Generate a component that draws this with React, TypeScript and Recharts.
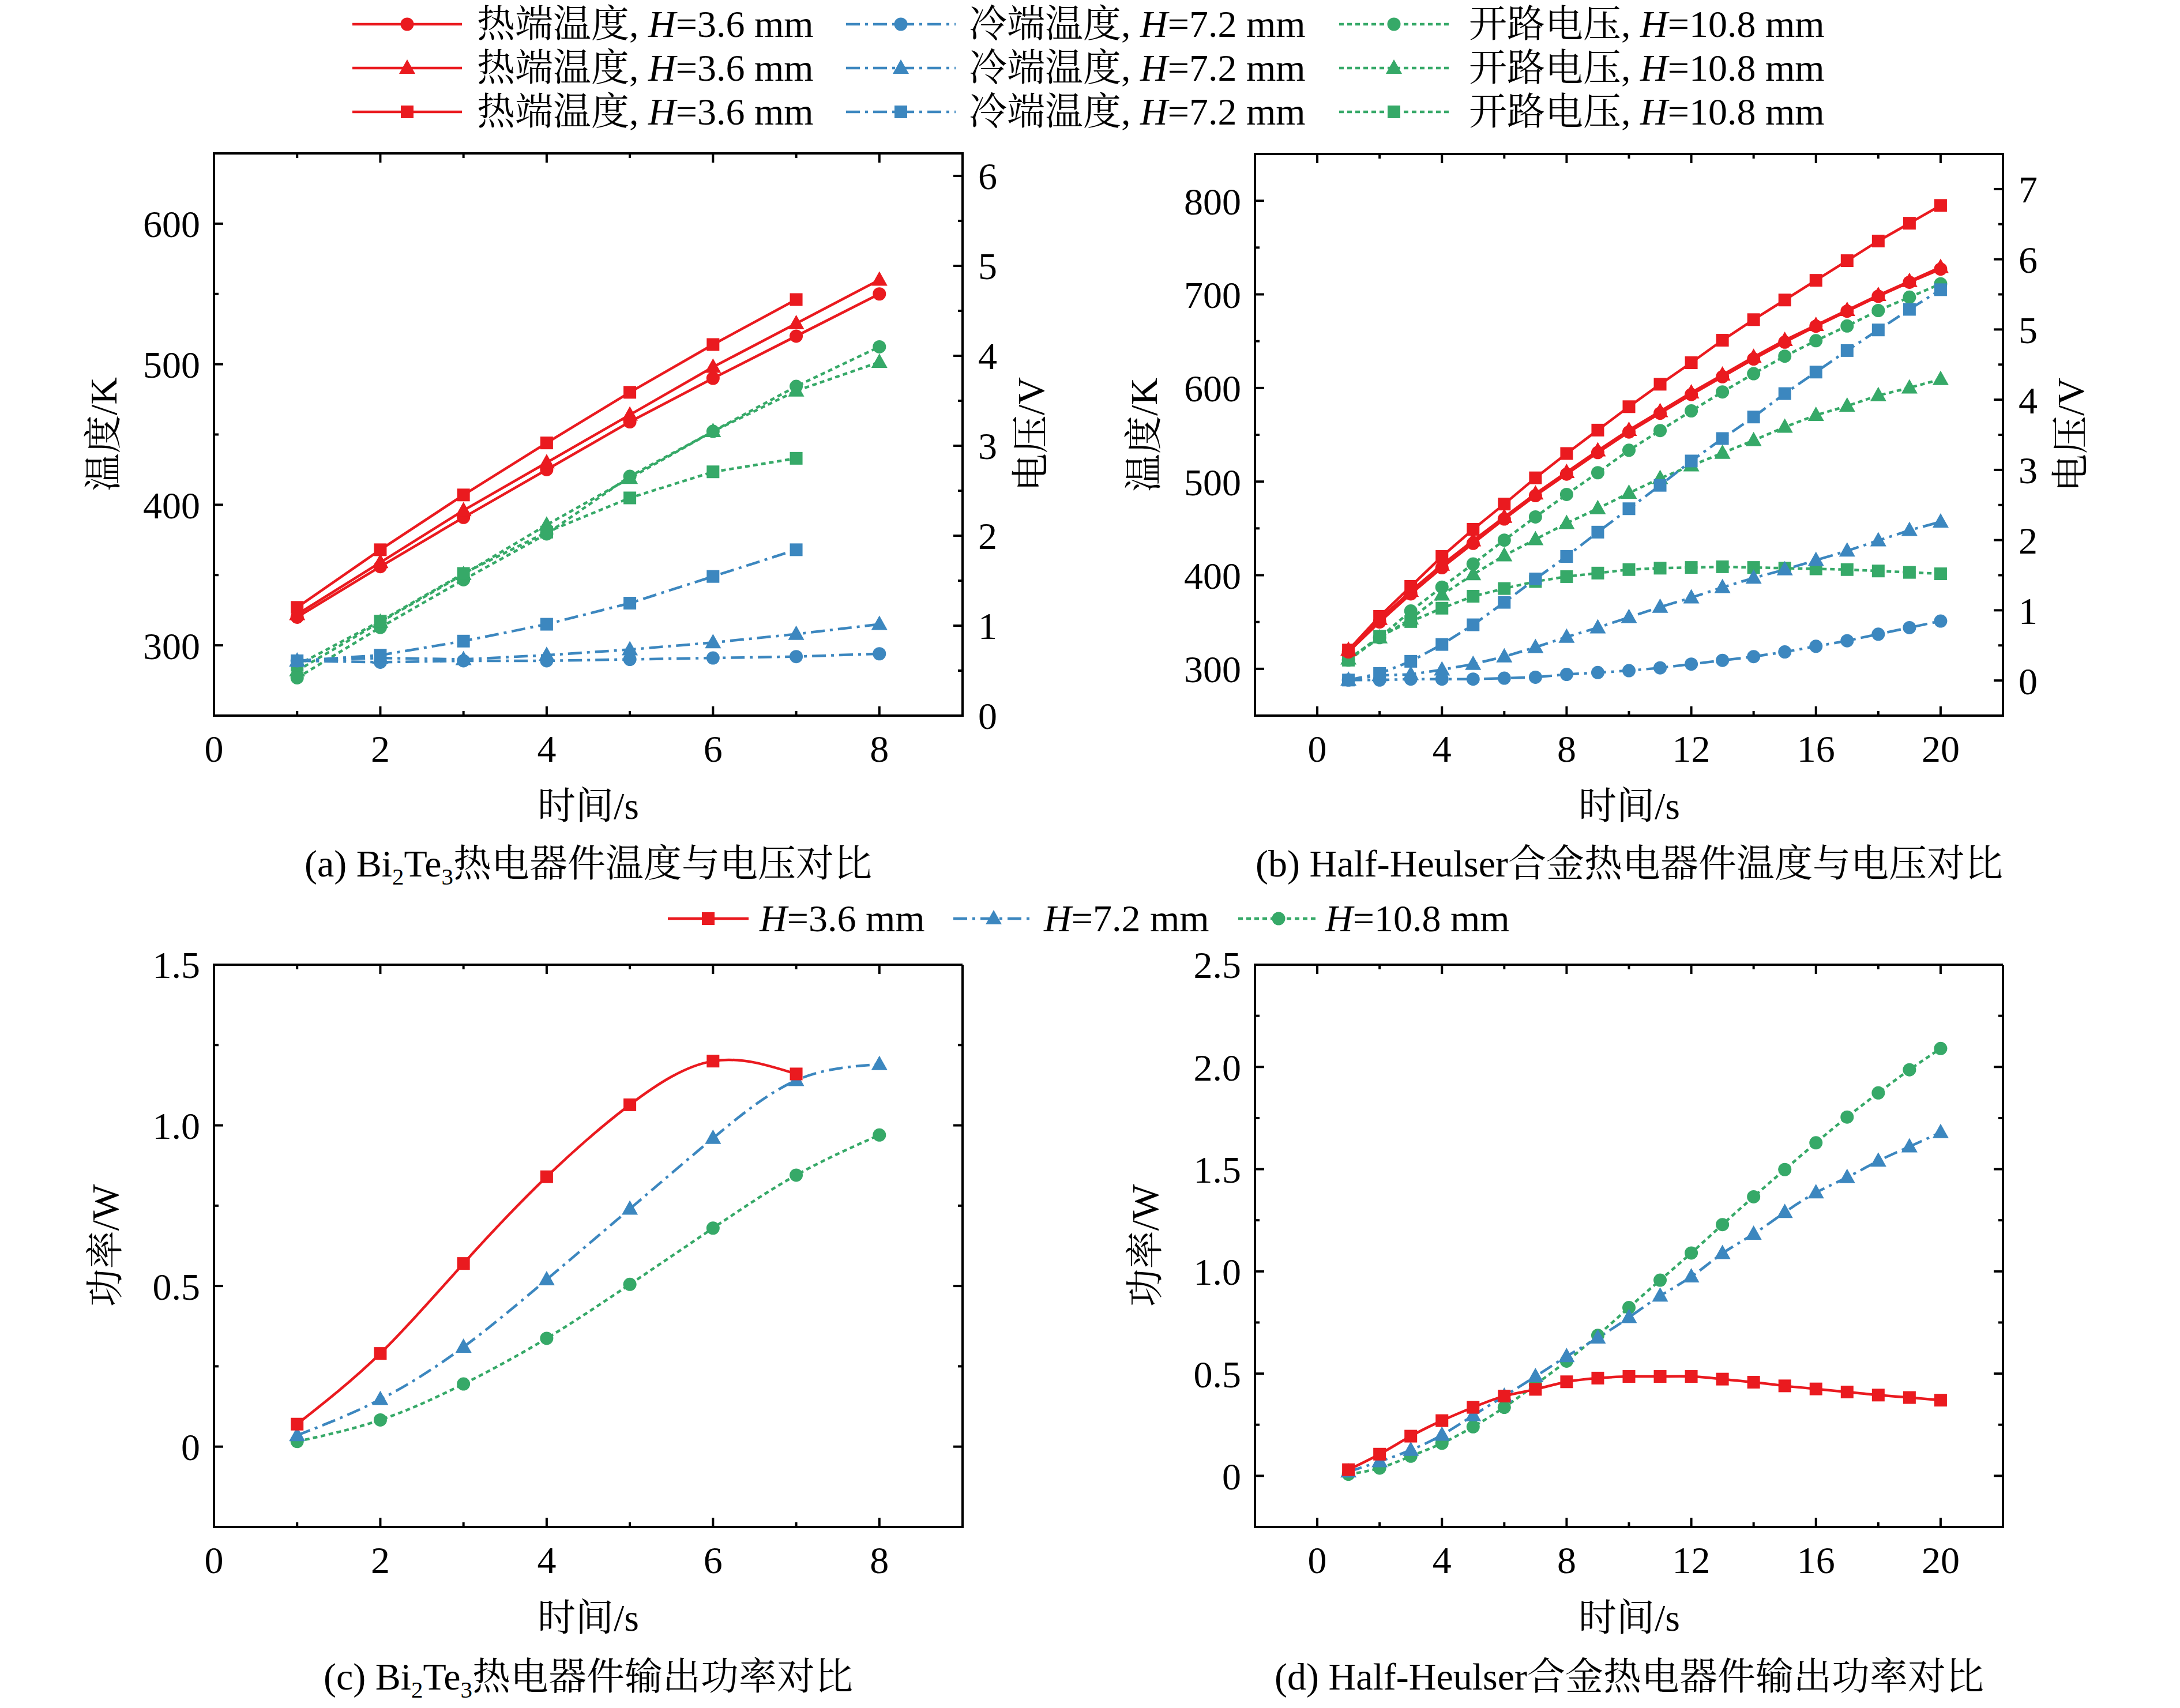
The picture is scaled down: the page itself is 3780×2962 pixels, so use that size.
import { LineChart, Line, XAxis, YAxis, ReferenceLine } from 'recharts';

const RED = '#ea1a1f';
const BLUE = '#3c87bf';
const GREEN = '#36a968';
const FONT = "'Liberation Serif', 'Times New Roman', 'Noto Serif CJK SC', 'Noto Sans CJK SC', serif";
const DASH_DOT = '24 9 5 9';
const SHORT_DASH = '8 6';
const LINE_W = 4.5;

// (a) Bi2Te3 device: temperature (K) and open-circuit voltage (V)
const TIME_A = [1, 2, 3, 4, 5, 6, 7, 8];
const A_HOT_CIRCLE = [320, 356, 391, 425, 459, 490, 520, 550];
const A_HOT_TRIANGLE = [322, 359, 396, 430, 464, 498, 529, 560];
const A_HOT_SQUARE = [327, 368, 407, 444, 480, 514, 546];
const A_COLD_CIRCLE = [289, 288, 289, 289, 290, 291, 292, 294];
const A_COLD_TRIANGLE = [289, 291, 290, 293, 297, 302, 308, 315];
const A_COLD_SQUARE = [289, 293, 303, 315, 330, 349, 368];
const A_VOLT_CIRCLE = [0.42, 0.98, 1.51, 2.02, 2.66, 3.16, 3.66, 4.1];
const A_VOLT_TRIANGLE = [0.5, 1.04, 1.57, 2.12, 2.64, 3.16, 3.61, 3.93];
const A_VOLT_SQUARE = [0.56, 1.05, 1.58, 2.04, 2.42, 2.71, 2.86];

// (b) Half-Heusler device
const TIME_B = [1, 2, 3, 4, 5, 6, 7, 8, 9, 10, 11, 12, 13, 14, 15, 16, 17, 18, 19, 20];
const B_HOT_CIRCLE = [318, 350, 380, 408, 434, 460, 485, 508, 531, 553, 573, 593, 612, 631, 649, 666, 682, 698, 713, 727];
const B_HOT_TRIANGLE = [320, 353, 383, 411, 437, 462, 487, 510, 533, 555, 575, 595, 614, 633, 651, 667, 683, 699, 714, 729];
const B_HOT_SQUARE = [320, 356, 388, 420, 449, 476, 504, 530, 555, 580, 604, 627, 651, 673, 694, 715, 736, 757, 776, 795];
const B_COLD_CIRCLE = [288, 288, 289, 289, 289, 290, 291, 294, 296, 298, 301, 305, 309, 313, 318, 324, 330, 337, 344, 351];
const B_COLD_TRIANGLE = [288, 293, 294, 299, 305, 313, 323, 334, 344, 355, 366, 376, 387, 397, 406, 416, 426, 437, 448, 457];
const B_COLD_SQUARE = [288, 295, 308, 326, 347, 371, 396, 420, 446, 471, 496, 522, 546, 569, 594, 617, 640, 662, 684, 705];
const B_VOLT_CIRCLE = [0.29, 0.61, 0.99, 1.33, 1.66, 2.0, 2.33, 2.65, 2.96, 3.28, 3.56, 3.84, 4.11, 4.37, 4.62, 4.84, 5.05, 5.27, 5.46, 5.65];
const B_VOLT_TRIANGLE = [0.31, 0.61, 0.88, 1.22, 1.51, 1.78, 2.01, 2.24, 2.45, 2.67, 2.88, 3.06, 3.24, 3.42, 3.61, 3.78, 3.91, 4.06, 4.17, 4.29];
const B_VOLT_SQUARE = [0.29, 0.63, 0.84, 1.03, 1.2, 1.31, 1.41, 1.48, 1.53, 1.58, 1.6, 1.61, 1.62, 1.61, 1.6, 1.59, 1.58, 1.56, 1.54, 1.52];

// (c) Bi2Te3 output power (W)
const C_POWER_36 = [0.07, 0.29, 0.57, 0.84, 1.064, 1.2, 1.16];
const C_POWER_72 = [0.035, 0.147, 0.31, 0.52, 0.74, 0.96, 1.14, 1.19];
const C_POWER_108 = [0.016, 0.083, 0.195, 0.337, 0.505, 0.68, 0.845, 0.97];

// (d) Half-Heusler output power (W)
const D_POWER_36 = [0.03, 0.106, 0.194, 0.27, 0.335, 0.39, 0.423, 0.46, 0.478, 0.486, 0.486, 0.486, 0.473, 0.458, 0.44, 0.425, 0.41, 0.395, 0.383, 0.37];
const D_POWER_72 = [0.02, 0.07, 0.126, 0.2, 0.295, 0.39, 0.486, 0.584, 0.675, 0.775, 0.88, 0.974, 1.088, 1.183, 1.289, 1.385, 1.46, 1.54, 1.61, 1.68];
const D_POWER_108 = [0.008, 0.038, 0.096, 0.159, 0.24, 0.335, 0.446, 0.561, 0.687, 0.823, 0.957, 1.09, 1.229, 1.365, 1.498, 1.629, 1.755, 1.873, 1.986, 2.09];

const rowsA = TIME_A.map((t, i) => ({
  t,
  hotC: A_HOT_CIRCLE[i], hotT: A_HOT_TRIANGLE[i], hotS: A_HOT_SQUARE[i],
  coldC: A_COLD_CIRCLE[i], coldT: A_COLD_TRIANGLE[i], coldS: A_COLD_SQUARE[i],
  voltC: A_VOLT_CIRCLE[i], voltT: A_VOLT_TRIANGLE[i], voltS: A_VOLT_SQUARE[i],
}));
const rowsB = TIME_B.map((t, i) => ({
  t,
  hotC: B_HOT_CIRCLE[i], hotT: B_HOT_TRIANGLE[i], hotS: B_HOT_SQUARE[i],
  coldC: B_COLD_CIRCLE[i], coldT: B_COLD_TRIANGLE[i], coldS: B_COLD_SQUARE[i],
  voltC: B_VOLT_CIRCLE[i], voltT: B_VOLT_TRIANGLE[i], voltS: B_VOLT_SQUARE[i],
}));
const rowsC = TIME_A.map((t, i) => ({ t, p36: C_POWER_36[i], p72: C_POWER_72[i], p108: C_POWER_108[i] }));
const rowsD = TIME_B.map((t, i) => ({ t, p36: D_POWER_36[i], p72: D_POWER_72[i], p108: D_POWER_108[i] }));

type Shape = 'circle' | 'triangle' | 'square';
type Series = { key: string; axis: 'L' | 'R'; color: string; dash?: string; shape: Shape };
type Scale = { domain: [number, number]; major: number[]; minor: number[]; fmt?: (v: number) => string };

const TEMP_SERIES: Series[] = [
  { key: 'voltC', axis: 'R', color: GREEN, dash: SHORT_DASH, shape: 'circle' },
  { key: 'voltT', axis: 'R', color: GREEN, dash: SHORT_DASH, shape: 'triangle' },
  { key: 'voltS', axis: 'R', color: GREEN, dash: SHORT_DASH, shape: 'square' },
  { key: 'coldC', axis: 'L', color: BLUE, dash: DASH_DOT, shape: 'circle' },
  { key: 'coldT', axis: 'L', color: BLUE, dash: DASH_DOT, shape: 'triangle' },
  { key: 'coldS', axis: 'L', color: BLUE, dash: DASH_DOT, shape: 'square' },
  { key: 'hotC', axis: 'L', color: RED, shape: 'circle' },
  { key: 'hotT', axis: 'L', color: RED, shape: 'triangle' },
  { key: 'hotS', axis: 'L', color: RED, shape: 'square' },
];
const POWER_SERIES: Series[] = [
  { key: 'p108', axis: 'L', color: GREEN, dash: SHORT_DASH, shape: 'circle' },
  { key: 'p72', axis: 'L', color: BLUE, dash: DASH_DOT, shape: 'triangle' },
  { key: 'p36', axis: 'L', color: RED, shape: 'square' },
];

const X_A: Scale = { domain: [0, 9], major: [0, 2, 4, 6, 8], minor: [1, 3, 5, 7] };
const X_B: Scale = { domain: [-2, 22], major: [0, 4, 8, 12, 16, 20], minor: [2, 6, 10, 14, 18] };
const TEMP_A: Scale = { domain: [250, 650], major: [300, 400, 500, 600], minor: [350, 450, 550] };
const VOLT_A: Scale = { domain: [0, 6.25], major: [0, 1, 2, 3, 4, 5, 6], minor: [0.5, 1.5, 2.5, 3.5, 4.5, 5.5] };
const TEMP_B: Scale = { domain: [250, 850], major: [300, 400, 500, 600, 700, 800], minor: [350, 450, 550, 650, 750] };
const VOLT_B: Scale = { domain: [-0.5, 7.5], major: [0, 1, 2, 3, 4, 5, 6, 7], minor: [0.5, 1.5, 2.5, 3.5, 4.5, 5.5, 6.5] };
const powerFmt = (v: number) => (v === 0 ? '0' : v.toFixed(1));
const POWER_C: Scale = { domain: [-0.25, 1.5], major: [0, 0.5, 1, 1.5], minor: [0.25, 0.75, 1.25], fmt: powerFmt };
const POWER_D: Scale = { domain: [-0.25, 2.5], major: [0, 0.5, 1, 1.5, 2, 2.5], minor: [0.25, 0.75, 1.25, 1.75, 2.25], fmt: powerFmt };

const AXIS_LINE = { stroke: '#000', strokeWidth: 4, strokeLinecap: 'square' as const };
const MAJOR_LEN = 16;
const MINOR_LEN = 8;
const X_MARGIN = 33;
const YL_MARGIN = 24;
const YR_MARGIN = 27;

const allTicks = (s: Scale) => [...s.major, ...s.minor].sort((a, b) => a - b);
const label = (s: Scale, v: number) => (s.fmt ? s.fmt(v) : String(v));

function Mark({ x1, y1, x2, y2 }: { x1: number; y1: number; x2: number; y2: number }) {
  return <line x1={x1} y1={y1} x2={x2} y2={y2} stroke="#000" strokeWidth={4} />;
}

// bottom axis tick: inward mark at the bottom and matching mark on the top frame
function bottomTick(s: Scale, plotH: number) {
  return (p: any) => {
    const v = p.payload.value;
    const major = s.major.includes(v);
    const len = major ? MAJOR_LEN : MINOR_LEN;
    const ay = p.y - X_MARGIN;
    return (
      <g>
        <Mark x1={p.x} y1={ay} x2={p.x} y2={ay - len} />
        <Mark x1={p.x} y1={ay - plotH} x2={p.x} y2={ay - plotH + len} />
        {major && (
          <text x={p.x} y={p.y} dy="0.71em" textAnchor="middle" fontSize={66} fontFamily={FONT} fill="#000">
            {label(s, v)}
          </text>
        )}
      </g>
    );
  };
}

// left axis tick; when `mirror` the same marks are repeated on the right frame
function leftTick(s: Scale, plotW: number, mirror: boolean) {
  return (p: any) => {
    const v = p.payload.value;
    const major = s.major.includes(v);
    const len = major ? MAJOR_LEN : MINOR_LEN;
    const ax = p.x + YL_MARGIN;
    return (
      <g>
        <Mark x1={ax} y1={p.y} x2={ax + len} y2={p.y} />
        {mirror && <Mark x1={ax + plotW} y1={p.y} x2={ax + plotW - len} y2={p.y} />}
        {major && (
          <text x={p.x} y={p.y} dy="0.355em" textAnchor="end" fontSize={66} fontFamily={FONT} fill="#000">
            {label(s, v)}
          </text>
        )}
      </g>
    );
  };
}

function rightTick(s: Scale) {
  return (p: any) => {
    const v = p.payload.value;
    const major = s.major.includes(v);
    const len = major ? MAJOR_LEN : MINOR_LEN;
    const ax = p.x - YR_MARGIN;
    return (
      <g>
        <Mark x1={ax} y1={p.y} x2={ax - len} y2={p.y} />
        {major && (
          <text x={p.x} y={p.y} dy="0.355em" textAnchor="start" fontSize={66} fontFamily={FONT} fill="#000">
            {label(s, v)}
          </text>
        )}
      </g>
    );
  };
}

function Marker({ x, y, shape, color }: { x: number; y: number; shape: Shape; color: string }) {
  if (shape === 'circle') return <circle cx={x} cy={y} r={11.5} fill={color} />;
  if (shape === 'square') return <rect x={x - 11} y={y - 11} width={22} height={22} fill={color} />;
  return <polygon points={`${x},${y - 15} ${x - 14},${y + 10} ${x + 14},${y + 10}`} fill={color} />;
}

function dotFor(shape: Shape, color: string) {
  return (p: any) => {
    const k = `dot-${p.index}`;
    if (p.cx == null || p.cy == null || p.value == null) return <g key={k} />;
    return <Marker key={k} x={p.cx} y={p.cy} shape={shape} color={color} />;
  };
}

const CHART_W = 1890;
const CHART_H = 1180;

type PanelProps = {
  left: number; top: number; marginTop: number; leftW: number; rightW: number; xH: number;
  x: Scale; yL: Scale; yR?: Scale; series: Series[]; rows: any[]; curve: 'linear' | 'natural';
};

function Panel({ left, top, marginTop, leftW, rightW, xH, x, yL, yR, series, rows, curve }: PanelProps) {
  const plotW = CHART_W - leftW - rightW;
  const plotH = CHART_H - marginTop - xH;
  return (
    <div style={{ position: 'absolute', left, top }}>
      <LineChart width={CHART_W} height={CHART_H} data={rows}
        margin={{ top: marginTop, right: yR ? 0 : rightW, bottom: 0, left: 0 }}>
        <XAxis xAxisId="x" type="number" dataKey="t" domain={x.domain} allowDataOverflow ticks={allTicks(x)}
          interval={0} tickLine={false} tickSize={0} tickMargin={X_MARGIN} axisLine={AXIS_LINE} height={xH}
          tick={bottomTick(x, plotH)} />
        <YAxis yAxisId="L" type="number" domain={yL.domain} allowDataOverflow ticks={allTicks(yL)} interval={0}
          tickLine={false} tickSize={0} tickMargin={YL_MARGIN} axisLine={AXIS_LINE} width={leftW}
          tick={leftTick(yL, plotW, !yR)} />
        {yR && (
          <YAxis yAxisId="R" orientation="right" type="number" domain={yR.domain} allowDataOverflow
            ticks={allTicks(yR)} interval={0} tickLine={false} tickSize={0} tickMargin={YR_MARGIN}
            axisLine={AXIS_LINE} width={rightW} tick={rightTick(yR)} />
        )}
        {/* frame: top border, and right border when there is no right axis */}
        <ReferenceLine xAxisId="x" yAxisId="L" y={yL.domain[1]} stroke="#000" strokeWidth={4} />
        {!yR && <ReferenceLine xAxisId="x" yAxisId="L" x={x.domain[1]} stroke="#000" strokeWidth={4} />}
        {series.map((s) => (
          <Line key={s.key} xAxisId="x" yAxisId={s.axis} dataKey={s.key} type={curve} stroke={s.color}
            strokeWidth={LINE_W} strokeDasharray={s.dash} dot={dotFor(s.shape, s.color)} activeDot={false}
            isAnimationActive={false} />
        ))}
      </LineChart>
    </div>
  );
}

const TEXT: React.CSSProperties = {
  position: 'absolute', fontFamily: FONT, fontSize: 66, color: '#000', whiteSpace: 'nowrap', lineHeight: 1,
};

function Centered({ x, y, rotate, children }: { x: number; y: number; rotate?: boolean; children: React.ReactNode }) {
  return (
    <div style={{ ...TEXT, left: x, top: y, transform: `translate(-50%, -50%)${rotate ? ' rotate(-90deg)' : ''}` }}>
      {children}
    </div>
  );
}

function Sample({ cx, cy, width, color, dash, shape }: { cx: number; cy: number; width: number; color: string; dash?: string; shape: Shape }) {
  return (
    <svg style={{ position: 'absolute', left: cx - width / 2, top: cy - 20 }} width={width} height={40}>
      <line x1={0} y1={20} x2={width} y2={20} stroke={color} strokeWidth={LINE_W} strokeDasharray={dash} />
      <Marker x={width / 2} y={20} shape={shape} color={color} />
    </svg>
  );
}

const LEGEND_SHAPES: Shape[] = ['circle', 'triangle', 'square'];
const LEGEND_ROWS_Y = [42, 118, 194];
const LEGEND_COLS = [
  { name: '热端温度', h: '3.6', color: RED, dash: undefined as string | undefined, cx: 706, tx: 827 },
  { name: '冷端温度', h: '7.2', color: BLUE, dash: DASH_DOT, cx: 1562, tx: 1680 },
  { name: '开路电压', h: '10.8', color: GREEN, dash: SHORT_DASH, cx: 2417, tx: 2547 },
];
const POWER_LEGEND = [
  { h: '3.6', color: RED, dash: undefined as string | undefined, shape: 'square' as Shape, cx: 1228, tx: 1317 },
  { h: '7.2', color: BLUE, dash: DASH_DOT, shape: 'triangle' as Shape, cx: 1723, tx: 1810 },
  { h: '10.8', color: GREEN, dash: SHORT_DASH, shape: 'circle' as Shape, cx: 2217, tx: 2298 },
];

const sub = { fontSize: '0.62em', verticalAlign: 'sub' as const, lineHeight: 0 };

export default function App() {
  return (
    <div style={{ position: 'absolute', left: 0, top: 0, width: 3780, height: 2962, background: '#fff', overflow: 'hidden' }}>
      {LEGEND_ROWS_Y.map((y, r) =>
        LEGEND_COLS.map((c) => (
          <div key={`${c.name}-${r}`}>
            <Sample cx={c.cx} cy={y} width={190} color={c.color} dash={c.dash} shape={LEGEND_SHAPES[r]} />
            <div style={{ ...TEXT, left: c.tx, top: y, transform: 'translateY(-50%)' }}>
              {c.name}, <i>H</i>={c.h} mm
            </div>
          </div>
        ))
      )}

      <Panel left={0} top={200} marginTop={66} leftW={371} rightW={221} xH={139}
        x={X_A} yL={TEMP_A} yR={VOLT_A} series={TEMP_SERIES} rows={rowsA} curve="linear" />
      <Panel left={1890} top={200} marginTop={67} leftW={286} rightW={307} xH={139}
        x={X_B} yL={TEMP_B} yR={VOLT_B} series={TEMP_SERIES} rows={rowsB} curve="linear" />
      <Panel left={0} top={1600} marginTop={73} leftW={371} rightW={221} xH={132}
        x={X_A} yL={POWER_C} series={POWER_SERIES} rows={rowsC} curve="natural" />
      <Panel left={1890} top={1600} marginTop={73} leftW={286} rightW={307} xH={132}
        x={X_B} yL={POWER_D} series={POWER_SERIES} rows={rowsD} curve="natural" />

      <Centered x={180} y={753} rotate>温度/K</Centered>
      <Centered x={1788} y={753} rotate>电压/V</Centered>
      <Centered x={1984} y={754} rotate>温度/K</Centered>
      <Centered x={3591} y={754} rotate>电压/V</Centered>
      <Centered x={183} y={2160} rotate>功率/W</Centered>
      <Centered x={1986} y={2160} rotate>功率/W</Centered>

      <Centered x={1020} y={1398}>时间/s</Centered>
      <Centered x={2825} y={1398}>时间/s</Centered>
      <Centered x={1020} y={2806}>时间/s</Centered>
      <Centered x={2825} y={2806}>时间/s</Centered>

      <Centered x={1020} y={1498}>(a) Bi<span style={sub}>2</span>Te<span style={sub}>3</span>热电器件温度与电压对比</Centered>
      <Centered x={2825} y={1498}>(b) Half-Heulser合金热电器件温度与电压对比</Centered>
      <Centered x={1020} y={2908}>(c) Bi<span style={sub}>2</span>Te<span style={sub}>3</span>热电器件输出功率对比</Centered>
      <Centered x={2825} y={2908}>(d) Half-Heulser合金热电器件输出功率对比</Centered>

      {POWER_LEGEND.map((p) => (
        <div key={p.h}>
          <Sample cx={p.cx} cy={1593} width={140} color={p.color} dash={p.dash} shape={p.shape} />
          <div style={{ ...TEXT, left: p.tx, top: 1593, transform: 'translateY(-50%)' }}>
            <i>H</i>={p.h} mm
          </div>
        </div>
      ))}
    </div>
  );
}
